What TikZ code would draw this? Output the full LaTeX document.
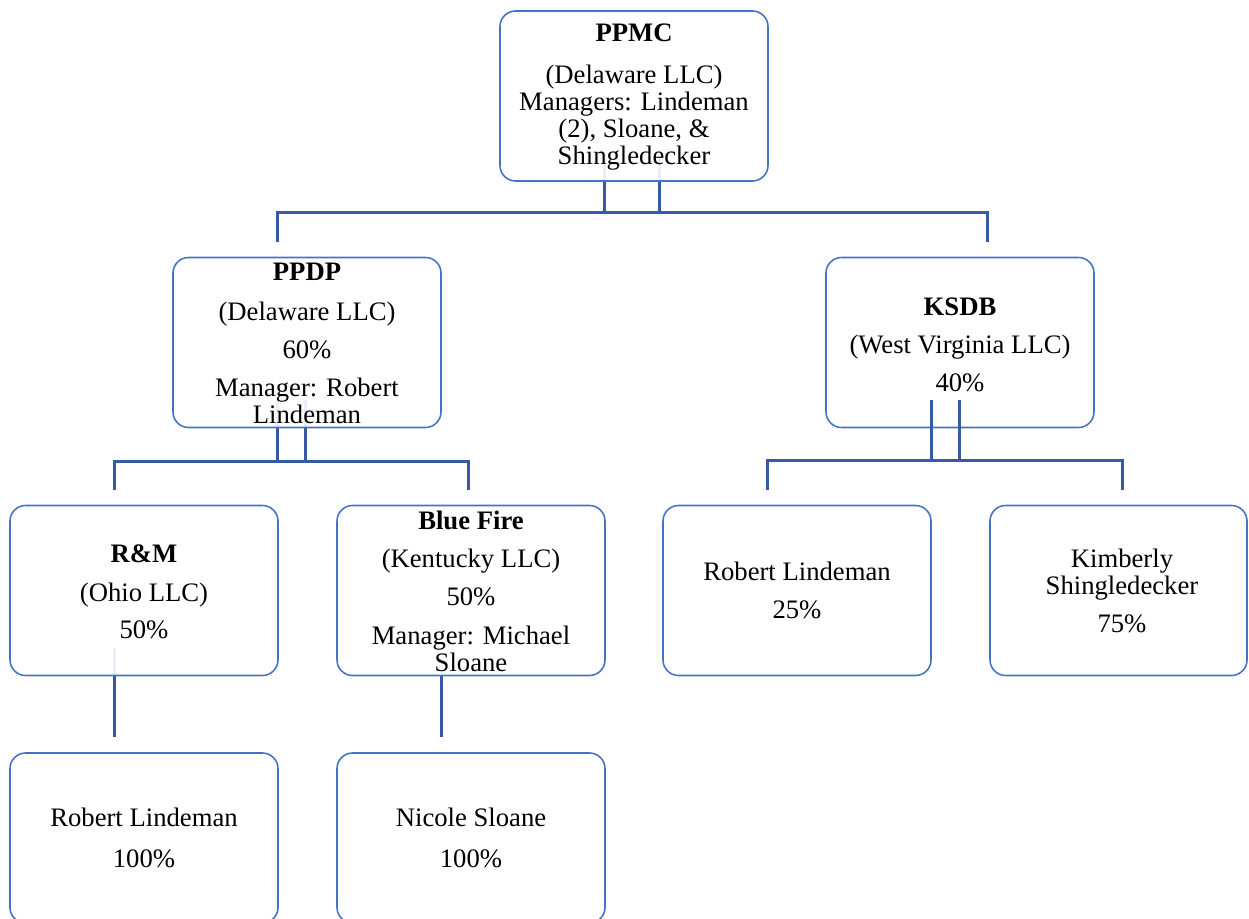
\documentclass[tikz,border=0pt]{standalone}
\usepackage{fontspec}
\setmainfont{Liberation Serif}
\usetikzlibrary{backgrounds}
\definecolor{boxblue}{RGB}{68,114,196}
\definecolor{linkblue}{RGB}{55,90,165}
\tikzset{
  orgbox/.style={draw=boxblue, line width=0.7pt, rounded corners=7pt, fill=white,
    fill opacity=0.9, text opacity=1, minimum width=120.6pt, minimum height=76.5pt, inner sep=0pt},
  orgtext/.style={align=center, inner sep=0pt, font=\fontsize{12}{12.15}\selectfont},
  link/.style={draw=linkblue, line width=1.35pt},
}
\begin{document}
\begin{tikzpicture}[x=0.45pt,y=-0.45pt]
\useasboundingbox (0,0) rectangle (1249,919);
% boxes
\node[orgbox] (ppmc) at (634,96) {};
\node[orgbox] (ppdp) at (307,342.5) {};
\node[orgbox] (ksdb) at (960,342.5) {};
\node[orgbox] (rm) at (144,590.5) {};
\node[orgbox] (bf) at (471,590.5) {};
\node[orgbox] (rla) at (797,590.5) {};
\node[orgbox, minimum width=115.65pt] (ks) at (1118.5,590.5) {};
\node[orgbox] (rlb) at (144,838) {};
\node[orgbox] (ns) at (471,838) {};
% texts
\node[orgtext] (ppmc-t) at (634,97) {\textbf{PPMC}\\[6.5pt](Delaware LLC)\\Managers: Lindeman\\(2), Sloane, \&\\Shingledecker};
\node[orgtext] (ppdp-t) at (307,343.5) {\textbf{PPDP}\\[5.5pt](Delaware LLC)\\[5pt]60\%\\[5pt]Manager: Robert\\Lindeman};
\node[orgtext] (ksdb-t) at (960,344.5) {\textbf{KSDB}\\[5pt](West Virginia LLC)\\[5pt]40\%};
\node[orgtext] (rm-t) at (144,592) {\textbf{R\&M}\\[5.5pt](Ohio LLC)\\[4.5pt]50\%};
\node[orgtext] (bf-t) at (471,591.5) {\textbf{Blue Fire}\\[5pt](Kentucky LLC)\\[5pt]50\%\\[5.5pt]Manager: Michael\\Sloane};
\node[orgtext] (rla-t) at (797,590) {Robert Lindeman\\[5pt]25\%};
\node[orgtext] (ks-t) at (1122,590.5) {Kimberly\\Shingledecker\\[5pt]75\%};
\node[orgtext] (rlb-t) at (144,838) {Robert Lindeman\\[6pt]100\%};
\node[orgtext] (ns-t) at (471,838) {Nicole Sloane\\[6pt]100\%};
% connector points
\coordinate (ppmc-a) at (604,155);
\coordinate (ppmc-b) at (659,155);
\coordinate (j1a) at (604,213);
\coordinate (j1b) at (659,213);
\coordinate (h1l) at (277,213);
\coordinate (h1r) at (987,213);
\coordinate (d1l) at (277,242);
\coordinate (d1r) at (987,242);
\coordinate (ppdp-a) at (277,400);
\coordinate (ppdp-b) at (305,400);
\coordinate (j2a) at (277,462);
\coordinate (j2b) at (305,462);
\coordinate (h2l) at (114,462);
\coordinate (h2r) at (468,462);
\coordinate (d2l) at (114,490);
\coordinate (d2r) at (468,490);
\coordinate (ksdb-a) at (931,400);
\coordinate (ksdb-b) at (959,400);
\coordinate (j3a) at (931,461);
\coordinate (j3b) at (959,461);
\coordinate (h3l) at (767,461);
\coordinate (h3r) at (1122,461);
\coordinate (d3l) at (767,490);
\coordinate (d3r) at (1122,490);
\coordinate (rm-a) at (114,648);
\coordinate (rm-d) at (114,737);
\coordinate (bf-a) at (441,676);
\coordinate (bf-d) at (441,737);
\begin{scope}[on background layer]
\draw[link] (ppmc-a) -- (j1a);
\draw[link] (ppmc-b) -- (j1b);
\draw[link] (d1l) -- (h1l) -- (h1r) -- (d1r);
\draw[link] (ppdp-a) -- (j2a);
\draw[link] (ppdp-b) -- (j2b);
\draw[link] (d2l) -- (h2l) -- (h2r) -- (d2r);
\draw[link] (rm-a) -- (rm-d);
\draw[link] (bf-a) -- (bf-d);
\end{scope}
\draw[link] (ksdb-a) -- (j3a);
\draw[link] (ksdb-b) -- (j3b);
\draw[link] (d3l) -- (h3l) -- (h3r) -- (d3r);
\end{tikzpicture}
\end{document}
